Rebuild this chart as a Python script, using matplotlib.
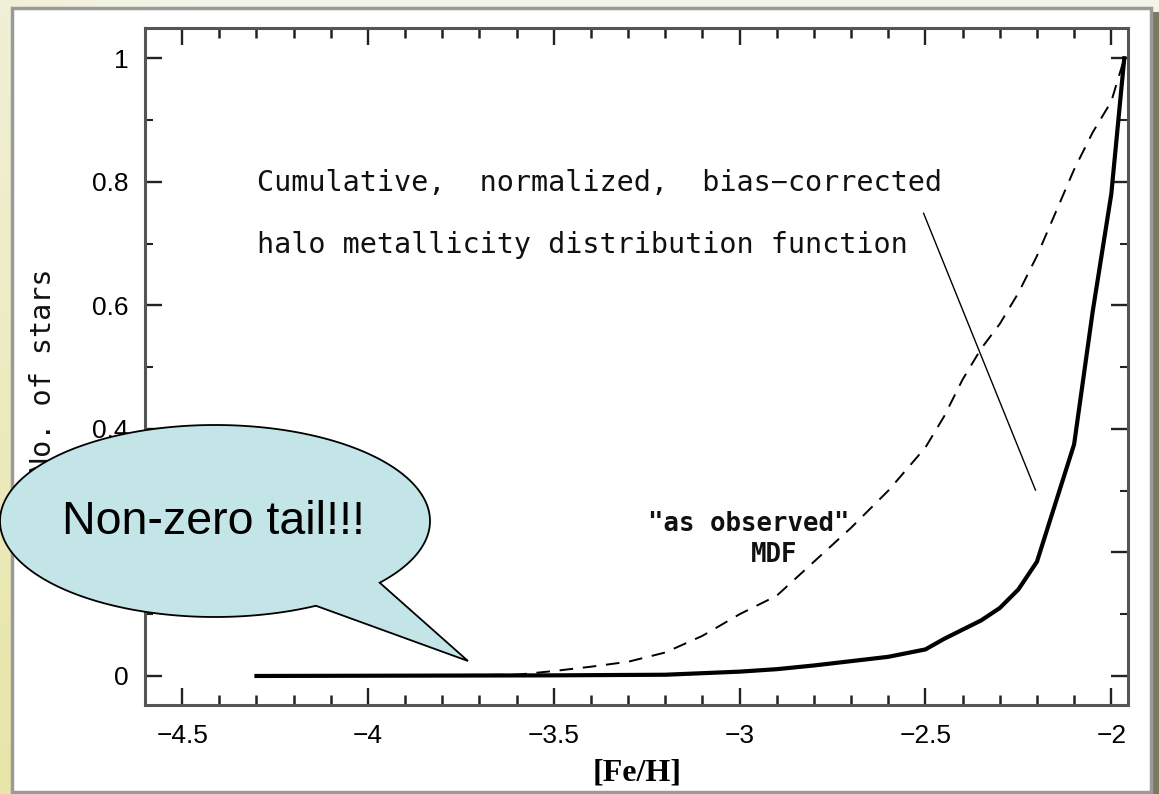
import numpy as np
import matplotlib
matplotlib.use('Agg')
import matplotlib.pyplot as plt
from matplotlib.patches import Rectangle, Polygon
from matplotlib.ticker import MultipleLocator

# cumulative MDF, bias-corrected (solid)
feh_corr = [-4.3, -3.5, -3.2, -3.0, -2.9, -2.8, -2.7, -2.6, -2.5, -2.45, -2.4,
            -2.35, -2.3, -2.25, -2.2, -2.15, -2.1, -2.05, -2.0, -1.965]
cum_corr = [0.0, 0.001, 0.002, 0.007, 0.011, 0.017, 0.024, 0.031, 0.043, 0.06, 0.075,
            0.09, 0.11, 0.14, 0.185, 0.28, 0.375, 0.59, 0.78, 1.0]

# "as observed" MDF (dashed)
feh_obs = [-4.3, -3.6, -3.5, -3.4, -3.3, -3.2, -3.1, -3.0, -2.9, -2.8, -2.7, -2.6,
           -2.5, -2.45, -2.4, -2.35, -2.3, -2.25, -2.2, -2.15, -2.1, -2.05, -2.0, -1.965]
cum_obs = [0.0, 0.002, 0.008, 0.015, 0.023, 0.038, 0.065, 0.10, 0.13, 0.185, 0.24, 0.30,
           0.37, 0.42, 0.48, 0.53, 0.57, 0.62, 0.68, 0.75, 0.82, 0.88, 0.93, 1.0]

xticks = [-4.5, -4, -3.5, -3, -2.5, -2]
xticklabels = ['\u22124.5', '\u22124', '\u22123.5', '\u22123', '\u22122.5', '\u22122']
yticks = [0, 0.2, 0.4, 0.6, 0.8, 1]
yticklabels = ['0', '0.2', '0.4', '0.6', '0.8', '1']

W, H = 1159, 794
fig = plt.figure(figsize=(W / 100, H / 100), dpi=100)

# slide background + white panel
bg = fig.add_axes([0, 0, 1, 1], zorder=-10)
yy, xx = np.mgrid[0:1:50j, 0:1:50j]
c_top = np.array([0.96, 0.96, 0.92])
c_left = np.array([0.91, 0.90, 0.66])
mix = np.clip((1 - xx * 6), 0, 1)[..., None] * (0.3 + 0.7 * yy[..., None])
grad = c_top * (1 - mix) + c_left * mix
bg.imshow(grad, extent=[0, W, H, 0], aspect='auto')
bg.add_patch(Rectangle((1151, 12), 8, 782, color='#7b7a5e', lw=0))
bg.add_patch(Rectangle((12, 8), 1139, 784, facecolor='white', edgecolor='#9a9a9a', lw=2.5))
bg.set_xlim(0, W)
bg.set_ylim(H, 0)
bg.axis('off')

ax = fig.add_axes([145 / W, 1 - 705 / H, (1128 - 145) / W, (705 - 28) / H], zorder=1)
ax.patch.set_alpha(0)

ax.plot(feh_corr, cum_corr, color='black', lw=3.0, solid_joinstyle='round')
ax.plot(feh_obs, cum_obs, color='black', lw=1.4, dashes=(7, 5))
ax.plot([-2.505, -2.204], [0.749, 0.301], color='black', lw=1.0)

mono = 'DejaVu Sans Mono'
ax.text(-4.299, 0.798, 'Cumulative,  normalized,  bias\u2212corrected', family=mono,
        fontsize=20.5, va='center', ha='left', color='#111111')
ax.text(-4.299, 0.697, 'halo metallicity distribution function', family=mono,
        fontsize=20.5, va='center', ha='left', color='#111111')
ax.text(-2.976, 0.246, '"as observed"', family=mono, fontweight='bold',
        fontsize=18.5, va='center', ha='center', color='#111111')
ax.text(-2.906, 0.196, 'MDF', family=mono, fontweight='bold',
        fontsize=18.5, va='center', ha='center', color='#111111')

ax.set_xlim(-4.6, -1.955)
ax.set_ylim(-0.047, 1.049)
ax.set_xticks(xticks)
ax.set_xticklabels(xticklabels, family='Liberation Sans', fontsize=19)
ax.set_yticks(yticks)
ax.set_yticklabels(yticklabels, family='Liberation Sans', fontsize=19)
ax.xaxis.set_minor_locator(MultipleLocator(0.1))
ax.yaxis.set_minor_locator(MultipleLocator(0.1))
ax.tick_params(which='both', direction='in', top=True, right=True, color='#222222')
ax.tick_params(which='major', length=12, width=1.7)
ax.tick_params(which='minor', length=6, width=1.5)
ax.tick_params(axis='x', which='minor', length=7, width=1.8)
ax.tick_params(axis='x', pad=14)
ax.tick_params(axis='y', pad=12)
for s in ax.spines.values():
    s.set_color('#555555')
    s.set_linewidth(2.2)

fig.text(637 / W, 1 - 773 / H, '[Fe/H]', family='Liberation Serif', fontweight='bold',
         fontsize=23, ha='center', va='center')
fig.text(43 / W, 1 - 371 / H, 'No. of stars', family=mono, fontsize=20.5,
         rotation=90, ha='center', va='center', color='#111111')

# speech bubble overlay (pixel coordinates)
ov = fig.add_axes([0, 0, 1, 1], zorder=10)
ov.set_xlim(0, W)
ov.set_ylim(H, 0)
ov.axis('off')
ov.patch.set_alpha(0)
t = np.radians(np.linspace(40, -298, 300))
pts = np.column_stack([215 + 215 * np.cos(t), 521 + 96 * np.sin(t)])
pts = np.vstack([pts, [[468, 661]]])
ov.add_patch(Polygon(pts, closed=True, facecolor='#c4e5e8', edgecolor='black', lw=1.3))
ov.text(213, 522, 'Non-zero tail!!!', family='Liberation Sans', fontsize=33.5,
        ha='center', va='center', color='black')

fig.savefig('out.png', dpi=100)
